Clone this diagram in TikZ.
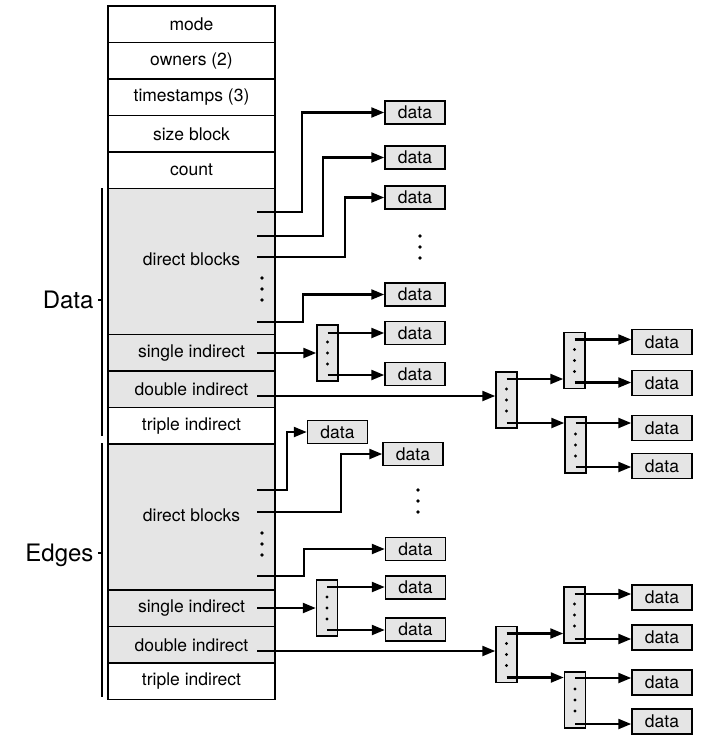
\documentclass[tikz,border=0pt]{standalone}
\usepackage{fontspec}
\setmainfont{TeX Gyre Heros}
\usetikzlibrary{positioning,arrows.meta}
\definecolor{cellgray}{gray}{0.9}
\tikzset{
	cell/.style={draw, line width=1.5pt, minimum width=167pt, minimum height=36.5pt, inner sep=0pt, outer sep=0pt, font=\fontsize{17.5}{20}\selectfont},
	graycell/.style={cell, fill=cellgray},
	datab/.style={draw, line width=1.5pt, fill=cellgray, minimum width=60pt, minimum height=23pt, inner sep=0pt, font=\fontsize{17.5}{20}\selectfont},
	idx/.style={draw, line width=1.5pt, fill=cellgray, minimum width=21pt, minimum height=56pt, inner sep=0pt},
	ptr/.style={line width=2.3pt, -{Triangle[length=13pt,width=10pt]}},
	side/.style={font=\fontsize{24}{28}\selectfont},
}
\newcommand{\idxdots}[1]{\foreach \d in {-11,0,11} \fill ([yshift=\d pt]#1.center) circle (1.7pt);}

\begin{document}
\begin{tikzpicture}[x=1pt,y=-1pt]
			\useasboundingbox (0,0) rectangle (707,742);
			
			% inode column
			\node[cell] (mode) at (191.5,24.25) {mode};
			\node[cell, below=0pt of mode] (owners) {owners (2)};
			\node[cell, below=0pt of owners] (stamps) {timestamps (3)};
			\node[cell, below=0pt of stamps] (size) {size block};
			\node[cell, below=0pt of size] (count) {count};
			\node[graycell, minimum height=146pt, below=0pt of count] (ddirect) {\raisebox{4pt}{direct blocks}};
			\node[graycell, below=0pt of ddirect] (dsingle) {single indirect};
			\node[graycell, below=0pt of dsingle] (ddouble) {double indirect};
			\node[cell, below=0pt of ddouble] (dtriple) {triple indirect};
			\node[graycell, minimum height=146pt, below=0pt of dtriple] (edirect) {\raisebox{3.5pt}{direct blocks}};
			\node[graycell, below=0pt of edirect] (esingle) {single indirect};
			\node[graycell, below=0pt of esingle] (edouble) {double indirect};
			\node[cell, below=0pt of edouble] (etriple) {triple indirect};
			
			% side labels
			\draw[line width=2.2pt] (102,188) -- (102,436);
			\draw[line width=2.2pt] (98,300) -- (102,300);
			\node[side, anchor=base east] (datal) at (97,308) {Data};
			\draw[line width=2.2pt] (102,443) -- (102,697);
			\draw[line width=2.2pt] (98,553) -- (102,553);
			\node[side, anchor=base east] (edgesl) at (97,561) {Edges};
			
			% Data part
			\coordinate (a1) at (257,212);
			\coordinate (a2) at (257,236);
			\coordinate (a3) at (257,257);
			\coordinate (a4) at (257,322);
			\coordinate (a5) at (257,353);
			\coordinate (a6) at (257,396);
			
			\node[datab] (d1) at (415,112.5) {data};
			\node[datab] (d2) at (415,157.5) {data};
			\node[datab] (d3) at (415,197.5) {data};
			\node[datab] (d4) at (415,294.5) {data};
			\node[datab] (d5) at (415,333) {data};
			\node[datab] (d6) at (415,374) {data};
			
			\node[idx] (si) at (327.5,353) {};
			\node[idx] (di) at (506.5,400) {};
			\node[idx] (dia) at (574.5,360.5) {};
			\node[idx] (dib) at (575.5,445) {};
			\idxdots{si} \idxdots{di} \idxdots{dia} \idxdots{dib}
			
			\node[datab, minimum height=25pt] (r1) at (662,342) {data};
			\node[datab, minimum height=25pt] (r2) at (662,383) {data};
			\node[datab, minimum height=25pt] (r3) at (662,428) {data};
			\node[datab, minimum height=25pt] (r4) at (662,466) {data};
			
			\foreach \y in {278,289,300} \fill (262,\y) circle (1.8pt);
			\foreach \y in {236,247,258} \fill (420,\y) circle (1.8pt);
			
			\draw[ptr] (a1) -- ++(45,0) |- (d1.west);
			\draw[ptr] (a2) -- ++(66,0) |- (d2.west);
			\draw[ptr] (a3) -- ++(88,0) |- (d3.west);
			\draw[ptr] (a4) -- ++(46,0) |- (d4.west);
			\draw[ptr] (a5) -- (si.west);
			\draw[ptr] (a6) -- (a6 -| di.west);
			
			\coordinate (si1) at ([yshift=20pt]si.center);
			\coordinate (si2) at ([yshift=-22pt]si.center);
			\draw[ptr] (si1) -- (si1 -| d5.west);
			\draw[ptr] (si2) -- (si2 -| d6.west);
			\coordinate (di1) at ([yshift=21pt]di.center);
			\coordinate (di2) at ([yshift=-23pt]di.center);
			\draw[ptr] (di1) -- (di1 -| dia.west);
			\draw[ptr] (di2) -- (di2 -| dib.west);
			\coordinate (dia1) at ([yshift=21pt]dia.center);
			\coordinate (dia2) at ([yshift=-22pt]dia.center);
			\draw[ptr] (dia1) -- (dia1 -| r1.west);
			\draw[ptr] (dia2) -- (dia2 -| r2.west);
			\coordinate (dib1) at ([yshift=22pt]dib.center);
			\coordinate (dib2) at ([yshift=-22pt]dib.center);
			\draw[ptr] (dib1) -- (dib1 -| r3.west);
			\draw[ptr] (dib2) -- (dib2 -| r4.west);
			
			% Edges part
			\coordinate (b1) at (257,490);
			\coordinate (b2) at (257,512);
			\coordinate (b3) at (257,576);
			\coordinate (b4) at (257,608);
			\coordinate (b5) at (257,651);
			
			\node[datab] (e1) at (337.5,432) {data};
			\node[datab] (e2) at (413,454) {data};
			\node[datab] (e3) at (415.5,549) {data};
			\node[datab] (e4) at (415.5,587.5) {data};
			\node[datab] (e5) at (415.5,629.5) {data};
			
			\node[idx] (ei) at (327,608) {};
			\node[idx] (ed) at (506.5,654.5) {};
			\node[idx] (eda) at (574.5,615) {};
			\node[idx] (edb) at (575,700) {};
			\idxdots{ei} \idxdots{ed} \idxdots{eda} \idxdots{edb}
			
			\node[datab, minimum height=25pt] (s1) at (662,597.5) {data};
			\node[datab, minimum height=25pt] (s2) at (662,637.5) {data};
			\node[datab, minimum height=25pt] (s3) at (662,682.5) {data};
			\node[datab, minimum height=25pt] (s4) at (662,721.5) {data};
			
			\foreach \y in {533,544,555} \fill (262,\y) circle (1.8pt);
			\foreach \y in {490,501,512} \fill (418,\y) circle (1.8pt);
			
			\draw[ptr] (b1) -- ++(30,0) |- (e1.west);
			\draw[ptr] (b2) -- ++(84,0) |- (e2.west);
			\draw[ptr] (b3) -- ++(47,0) |- (e3.west);
			\draw[ptr] (b4) -- (ei.west);
			\draw[ptr] (b5) -- (b5 -| ed.west);
			
			\coordinate (ei1) at ([yshift=21pt]ei.center);
			\coordinate (ei2) at ([yshift=-22pt]ei.center);
			\draw[ptr] (ei1) -- (ei1 -| e4.west);
			\draw[ptr] (ei2) -- (ei2 -| e5.west);
			\coordinate (ed1) at ([yshift=21pt]ed.center);
			\coordinate (ed2) at ([yshift=-23pt]ed.center);
			\draw[ptr] (ed1) -- (ed1 -| eda.west);
			\draw[ptr] (ed2) -- (ed2 -| edb.west);
			\coordinate (eda1) at ([yshift=21pt]eda.center);
			\coordinate (eda2) at ([yshift=-24pt]eda.center);
			\draw[ptr] (eda1) -- (eda1 -| s1.west);
			\draw[ptr] (eda2) -- (eda2 -| s2.west);
			\coordinate (edb1) at ([yshift=22pt]edb.center);
			\coordinate (edb2) at ([yshift=-24pt]edb.center);
			\draw[ptr] (edb1) -- (edb1 -| s3.west);
			\draw[ptr] (edb2) -- (edb2 -| s4.west);
		\end{tikzpicture}
\end{document}
